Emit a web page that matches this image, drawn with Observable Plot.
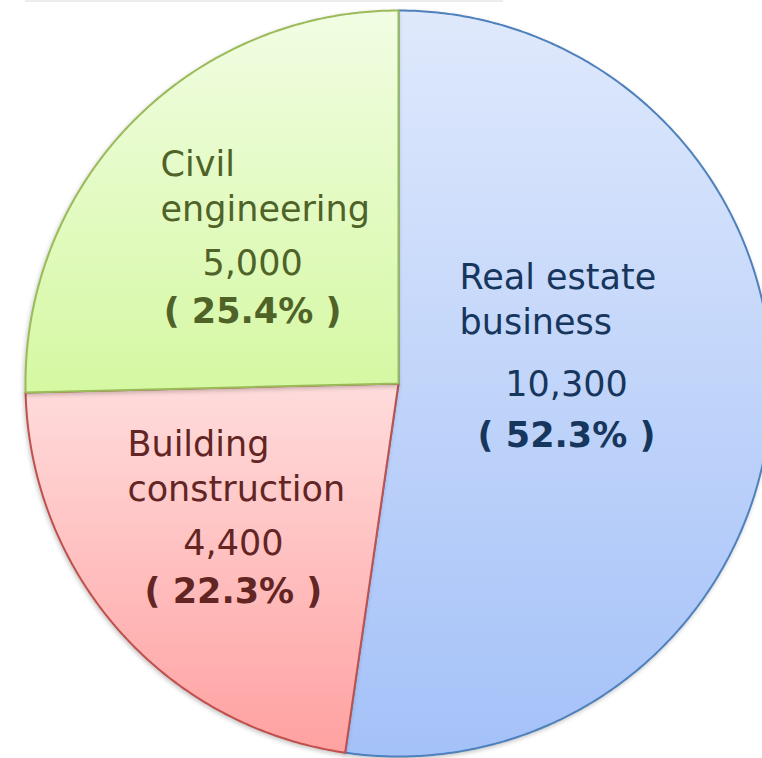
<!DOCTYPE html>
<html><head><meta charset="utf-8">
<script src="https://cdn.jsdelivr.net/npm/d3@7"></script>
<script src="https://cdn.jsdelivr.net/npm/@observablehq/plot@0.6"></script>
<style>
html,body{margin:0;padding:0;background:#fff;}
#chart{position:relative;width:762px;height:758px;overflow:hidden;}
#topline{position:absolute;left:25px;top:0;width:478px;height:2px;background:#ececec;z-index:2;}
#chart svg{display:block;}
#chart g[aria-label="line"]{filter:drop-shadow(-1px 2px 2px rgba(0,0,0,0.22));}
</style></head><body>
<div id="chart"><div id="topline"></div></div>
<script>
// ---- data ----
const categories = ["Real estate business", "Building construction", "Civil engineering"];
const nameLines = ["Real estate\nbusiness", "Building\nconstruction", "Civil\nengineering"];
const values = [10300, 4400, 5000];

// ---- styles ----
const fillTop = ["#dfe9fc", "#ffdcdc", "#f1fde3"];
const fillBottom = ["#a4c1f8", "#ffa1a1", "#d5f8a2"];
const strokeColors = ["#4f81bd", "#c0504d", "#9bbb59"];
const textColors = ["#17365d", "#632523", "#4f6228"];

// ---- layout ----
const W = 762, H = 758, CX = 398, CY = 383, R = 373;
const FS = 35;
const FONT = "'DejaVu Sans', sans-serif";
// label placement per slice: radial fraction, vertical nudge (px), name offsets, percent offset
const labelLayout = [
  {k: 0.4516, dy: 0, nameDx: -107, nameDy: -62, pctDy: 51},
  {k: 0.5915, dy: 25.5, nameDx: -106, nameDy: -54, pctDy: 48},
  {k: 0.5468, dy: 34.4, nameDx: -92, nameDy: -54, pctDy: 48}
];

const total = d3.sum(values);
const arcs = d3.pie().sort(null).value(d => d)(values);

// slice outlines (unit-radius coordinates, y up)
function slicePoints(a) {
  const pts = [{x: 0, y: 0}];
  const n = Math.max(2, Math.ceil((a.endAngle - a.startAngle) / (Math.PI / 360)));
  for (let j = 0; j <= n; j++) {
    const t = a.startAngle + (a.endAngle - a.startAngle) * j / n;
    pts.push({x: Math.sin(t), y: Math.cos(t)});
  }
  pts.push({x: 0, y: 0});
  return pts;
}

const defsMark = () => {
  const defs = d3.create("svg:defs");
  categories.forEach((c, i) => {
    const g = defs.append("linearGradient").attr("id", `grad${i}`)
      .attr("x1", 0).attr("y1", 0).attr("x2", 0).attr("y2", 1);
    g.append("stop").attr("offset", 0).attr("stop-color", fillTop[i]);
    g.append("stop").attr("offset", 1).attr("stop-color", fillBottom[i]);
  });
  return defs.node();
};

const marks = [defsMark];
arcs.forEach((a, i) => {
  marks.push(Plot.line(slicePoints(a), {
    x: "x", y: "y", fill: `url(#grad${i})`, stroke: strokeColors[i],
    strokeWidth: 2, strokeLinejoin: "round", curve: "linear"
  }));
});

arcs.forEach((a, i) => {
  const L = labelLayout[i];
  const mid = (a.startAngle + a.endAngle) / 2;
  const anchor = [{x: L.k * Math.sin(mid), y: L.k * Math.cos(mid)}];
  const common = {x: "x", y: "y", fontSize: FS, fill: textColors[i], lineAnchor: "bottom", fontFamily: FONT};
  marks.push(Plot.text(anchor, {...common, text: () => nameLines[i], textAnchor: "start",
    lineHeight: 45 / FS, dx: L.nameDx, dy: L.dy + L.nameDy}));
  marks.push(Plot.text(anchor, {...common, text: () => d3.format(",")(values[i]), textAnchor: "middle",
    dy: L.dy}));
  marks.push(Plot.text(anchor, {...common,
    text: () => "( " + (values[i] / total * 100).toFixed(1) + "% )",
    textAnchor: "middle", fontWeight: "bold", dy: L.dy + L.pctDy}));
});

const chart = Plot.plot({
  width: W, height: H, margin: 0,
  x: {domain: [-CX / R, (W - CX) / R], range: [0, W], axis: null},
  y: {domain: [-(H - CY) / R, CY / R], range: [H, 0], axis: null},
  style: {background: "transparent", fontFamily: FONT, overflow: "hidden", maxWidth: "none"},
  marks
});
document.getElementById("chart").appendChild(chart);
</script>
</body></html>
